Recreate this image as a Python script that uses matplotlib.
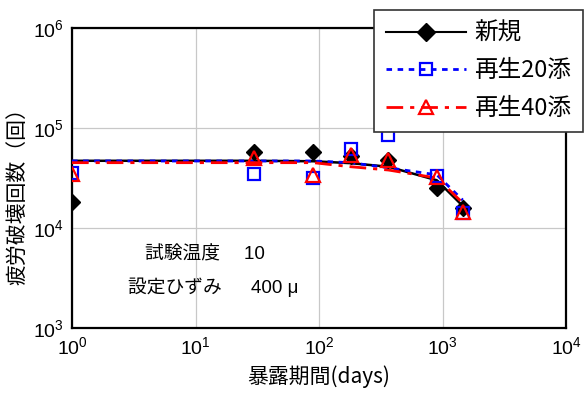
import math
import matplotlib
matplotlib.use("Agg")
import matplotlib.pyplot as plt
from matplotlib.ticker import LogLocator, FuncFormatter
from matplotlib.lines import Line2D

plt.rcParams['font.family'] = ['Liberation Sans', 'Noto Sans CJK JP', 'DejaVu Sans']
plt.rcParams['mathtext.fontset'] = 'custom'
plt.rcParams['mathtext.rm'] = 'Liberation Sans'

days = [1, 30, 90, 180, 365, 900, 1460]

new_pts = [18000, 58000, 58000, 52000, 48000, 25000, 16000]
r20_pts = [35500, 35000, 31600, 62000, 85000, 33000, 14000]
r40_pts = [35000, 50000, 34000, 54000, 48000, 32000, 14500]

new_fit = [47000, 47000, 46500, 44500, 41000, 30000, 16600]
r20_fit = [46800, 46800, 46800, 45000, 40000, 34000, 19000]
r40_fit = [45000, 45000, 45000, 41000, 38000, 31600, 17800]

labels = ['新規', '再生20添', '再生40添']

CJK = ['Noto Sans CJK JP', 'DejaVu Sans']
MIX = ['Liberation Sans', 'Noto Sans CJK JP', 'DejaVu Sans']

fig = plt.figure(figsize=(5.87, 3.96), dpi=100)
ax = fig.add_axes([72/587, 1-328/396, (566-72)/587, (328-28)/396])

ax.set_xscale('log')
ax.set_yscale('log')
ax.set_xlim(1, 1e4)
ax.set_ylim(1e3, 1e6)

ax.plot(days, new_fit, '-', color='black', lw=1.8, zorder=3)
ax.plot(days, r20_fit, color='blue', lw=2.0, zorder=3, dashes=(2, 2))
ax.plot(days, r40_fit, color='red', lw=2.0, zorder=3, dashes=(6, 2.5, 1.5, 2.5))

ax.plot(days, new_pts, 'D', color='black', ms=8.5, zorder=4, ls='none')
ax.plot(days, r20_pts, 's', mfc='none', mec='blue', ms=9, mew=1.6, zorder=5, ls='none')
ax.plot(days, r40_pts, '^', mfc='none', mec='red', ms=9.5, mew=1.6, zorder=6, ls='none')

h1 = Line2D([], [], color='black', lw=1.5, marker='D', ms=9)
h2 = Line2D([], [], color='blue', lw=2.0, dashes=(2, 2), marker='s', mfc='none', mec='blue', ms=9, mew=1.6)
h3 = Line2D([], [], color='red', lw=2.0, dashes=(6, 2.5, 1.5, 2.5), marker='^', mfc='none', mec='red', ms=9.5, mew=1.6)
leg = fig.legend([h1, h2, h3], labels, loc='upper left', bbox_to_anchor=(374/587, 1-10/396),
                 borderaxespad=0, frameon=True, fancybox=False, edgecolor='#333333', framealpha=1,
                 handlelength=3.4, handletextpad=0.35, labelspacing=0.62,
                 borderpad=0.5, prop={'family': CJK, 'size': 17})
leg.get_frame().set_linewidth(1.2)
leg.set_zorder(10)

ax.grid(True, which='major', color='#c8c8c8', lw=0.9)
ax.set_axisbelow(True)
ax.xaxis.set_major_locator(LogLocator(base=10, numticks=10))
ax.yaxis.set_major_locator(LogLocator(base=10, numticks=10))
ax.xaxis.set_minor_locator(plt.NullLocator())
ax.yaxis.set_minor_locator(plt.NullLocator())
fmt = FuncFormatter(lambda v, p: r'$\mathregular{10^{%d}}$' % round(math.log10(v)))
ax.xaxis.set_major_formatter(fmt)
ax.yaxis.set_major_formatter(fmt)
ax.tick_params(axis='both', which='major', length=0, labelsize=14, pad=6)

for s in ax.spines.values():
    s.set_linewidth(1.6)

ax.set_xlabel('暴露期間(days)', fontsize=15, family=CJK, labelpad=5)
ax.set_ylabel('疲労破壊回数（回）', fontsize=15, family=CJK)
ax.yaxis.set_label_coords(-0.088, 1-(191-28)/300)

ax.text(0.148, 0.245, '試験温度\u3000 10', transform=ax.transAxes, ha='left', va='center',
        fontsize=13.5, family=MIX)
ax.text(0.113, 0.135, '設定ひずみ\u3000  400 μ', transform=ax.transAxes, ha='left', va='center',
        fontsize=13.5, family=MIX)

fig.savefig('out.png', dpi=100)
